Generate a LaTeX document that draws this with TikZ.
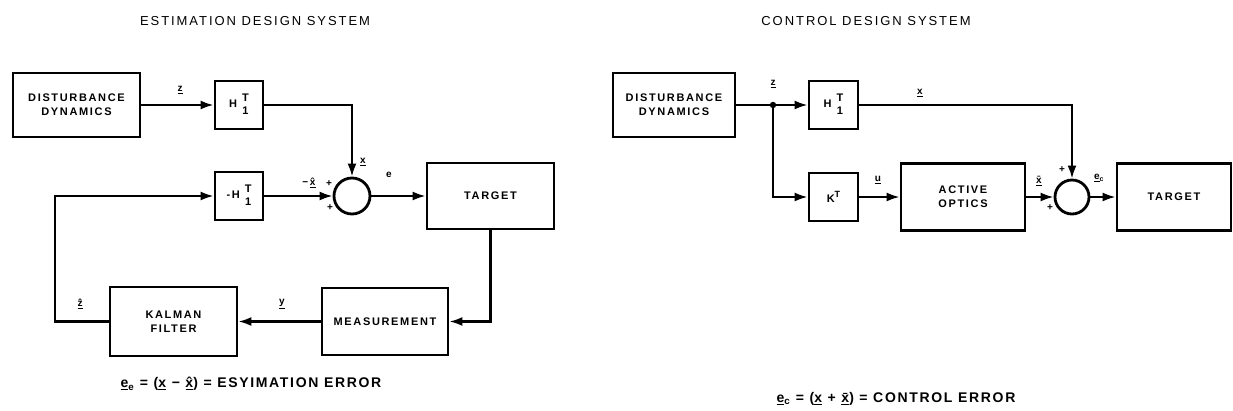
\documentclass[tikz,border=0pt]{standalone}
\usepackage{fontspec}
\setmainfont{Liberation Sans}
\newfontfamily\boxfont[LetterSpace=15]{Liberation Sans}
\newfontfamily\titlefont[LetterSpace=15]{Liberation Sans}
\newfontfamily\eqfont[LetterSpace=12]{Liberation Sans}
\usetikzlibrary{arrows.meta}
\tikzset{
  blk/.style={draw, line width=2.8pt, rectangle, inner sep=0pt, align=center,
    font=\boxfont\bfseries\fontsize{11}{14}\selectfont},
  sumc/.style={draw, circle, line width=2.8pt, inner sep=0pt},
  wire/.style={line width=2.2pt},
  arr/.style={wire, -{Latex[length=13pt,width=9pt]}},
  lbl/.style={font=\bfseries\fontsize{10}{11}\selectfont, inner sep=0.5pt},
  ttl/.style={font=\titlefont\fontsize{13}{15}\selectfont},
  eqn/.style={font=\eqfont\bfseries\fontsize{14}{16}\selectfont}
}
\newcommand{\Hsub}[1]{#1\hspace{5pt}\begin{tabular}{@{}c@{}}T\\[-1pt]1\end{tabular}}
\begin{document}
\begin{tikzpicture}[x=1pt,y=-1pt]
\useasboundingbox[fill=white] (0,0) rectangle (1233,411);

% ---------------- Estimation design system ----------------
\node[ttl] (title1) at (255,21) {ESTIMATION DESIGN SYSTEM};
\node[blk, minimum width=127pt, minimum height=64pt] (dd1) at (76.5,105) {DISTURBANCE\\DYNAMICS};
\node[blk, minimum width=48pt, minimum height=48pt] (h1) at (239,105) {\Hsub{H}};
\node[blk, minimum width=48pt, minimum height=48pt] (hn) at (239,196) {\Hsub{-H}};
\node[sumc, minimum size=36pt] (sum1) at (352,196) {};
\node[blk, minimum width=127pt, minimum height=66pt] (tgt1) at (490.5,196) {TARGET};
\node[blk, minimum width=126pt, minimum height=67pt] (meas) at (385,321.5) {MEASUREMENT};
\node[blk, minimum width=127pt, minimum height=69pt] (kal) at (173.5,321.5) {KALMAN\\FILTER};
\coordinate (fb) at (55,321.5);

\draw[arr] (dd1) -- (h1);
\draw[arr] (h1.east) -| (sum1.north);
\draw[arr] (hn) -- (sum1);
\draw[arr] (sum1) -- (tgt1);
\draw[arr] (tgt1.south) |- (meas.east);
\draw[arr] (meas) -- (kal);
\draw[arr] (kal.west) -- (fb) |- (hn.west);

\node[lbl] (lz1) at (180,90) {\underline{z}};
\node[lbl] (lx1) at (363,162) {\underline{x}};
\node[lbl] (lxh1) at (309,183) {−\,\underline{\^{x}}};
\node[lbl] (lp1) at (329,184) {+};
\node[lbl] (lp2) at (330,208) {+};
\node[lbl] (le1) at (389,175) {e};
\node[lbl] (ly1) at (282,304) {\underline{y}};
\node[lbl] (lzh1) at (80,304) {\underline{\^{z}}};

\node[eqn] (eq1) at (251,384) {\underline{e}\textsubscript{e} = (\underline{x} − \underline{\^{x}}) = ESYIMATION ERROR};

% ---------------- Control design system ----------------
\node[ttl] (title2) at (866,21) {CONTROL DESIGN SYSTEM};
\node[blk, minimum width=122pt, minimum height=64pt] (dd2) at (674,105) {DISTURBANCE\\DYNAMICS};
\node[blk, minimum width=49pt, minimum height=48pt] (h2) at (833.5,105) {\Hsub{H}};
\node[blk, minimum width=49pt, minimum height=48pt] (k) at (833.5,197) {K\raisebox{5pt}{\fontsize{9}{10}\selectfont T}};
\node[blk, minimum width=124pt, minimum height=67pt] (ao) at (963,197) {ACTIVE\\OPTICS};
\node[sumc, minimum size=34pt] (sum2) at (1072,197) {};
\node[blk, minimum width=114pt, minimum height=67pt] (tgt2) at (1174,197) {TARGET};
\coordinate (j) at (773,105);

\draw[arr] (dd2) -- (h2);
\fill (j) circle (3.2pt);
\draw[arr] (j) |- (k.west);
\draw[arr] (k) -- (ao);
\draw[arr] (h2.east) -| (sum2.north);
\draw[arr] (ao) -- (sum2);
\draw[arr] (sum2) -- (tgt2);

\node[lbl] (lz2) at (773,84) {\underline{z}};
\node[lbl] (lx2) at (920,93) {\underline{x}};
\node[lbl] (lu2) at (878,180) {\underline{u}};
\node[lbl] (lxb2) at (1039,181) {\underline{\={x}}};
\node[lbl] (lp3) at (1062,170) {+};
\node[lbl] (lp4) at (1050,208) {+};
\node[lbl] (le2) at (1099,178) {\underline{e}\textsubscript{c}};

\node[eqn] (eq2) at (896,399) {\underline{e}\textsubscript{c} = (\underline{x} + \underline{\={x}}) = CONTROL ERROR};
\end{tikzpicture}
\end{document}
